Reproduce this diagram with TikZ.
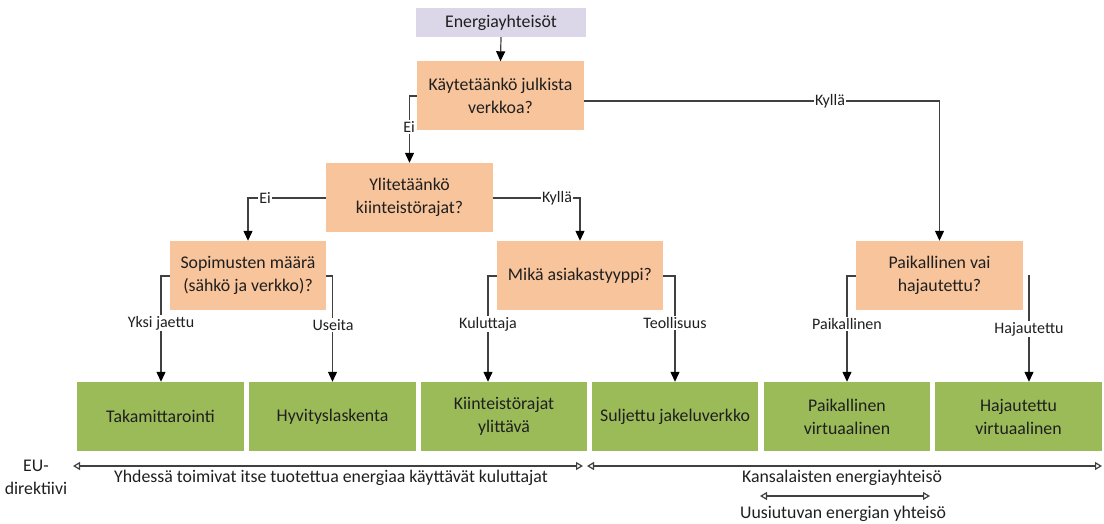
\documentclass[tikz,border=0pt]{standalone}
\usepackage{fontspec}
\setmainfont{Carlito}
\usetikzlibrary{arrows.meta,calc}
\definecolor{lav}{HTML}{DCD7E8}
\definecolor{peach}{HTML}{F8C49B}
\definecolor{grn}{HTML}{9BBB59}
\definecolor{txt}{HTML}{1F1F1F}
\definecolor{ln}{HTML}{404040}
\begin{document}
\begin{tikzpicture}[x=1pt,y=-1pt,
  box/.style={minimum width=167pt,minimum height=69pt,inner sep=0pt,align=center,text=txt,font=\fontsize{17.8}{23}\selectfont},
  qbox/.style={box,fill=peach},
  gbox/.style={box,fill=grn},
  topbox/.style={box,fill=lav,minimum width=170pt,minimum height=29pt},
  conn/.style={draw=ln,line width=1.2pt,-{Triangle[length=10pt,width=9pt,color=black]}},
  lbl/.style={fill=white,inner sep=1pt,text=txt,font=\fontsize{16}{18}\selectfont},
  spanline/.style={draw=ln,line width=1.2pt,{Triangle[open,length=7pt,width=8pt]}-{Triangle[open,length=7pt,width=8pt]}},
  note/.style={text=txt,font=\fontsize{17.8}{23}\selectfont,inner sep=0pt,align=center}]
\useasboundingbox (0,0) rectangle (1104,524);

% nodes
\node[topbox] (top) at (501,22.5) {Energiayhteisöt};
\node[qbox] (q1) at (500.5,96) {Käytetäänkö julkista\\verkkoa?};
\node[qbox] (q2) at (409.5,197.5) {Ylitetäänkö\\kiinteistörajat?};
\node[qbox,minimum width=156pt] (q3) at (248,275.5) {Sopimusten määrä\\(sähkö ja verkko)?};
\node[qbox,minimum width=166pt] (q4) at (580,275.5) {Mikä asiakastyyppi?};
\node[qbox] (q5) at (939.5,275.5) {Paikallinen vai\\hajautettu?};

\node[gbox] (g1) at (160.5,416.5) {Takamittarointi};
\node[gbox] (g2) at (332.5,416.5) {Hyvityslaskenta};
\node[gbox,minimum width=166pt] (g3) at (504,416.5) {Kiinteistörajat\\ylittävä};
\node[gbox,minimum width=166pt] (g4) at (675,416.5) {Suljettu jakeluverkko};
\node[gbox,minimum width=166pt] (g5) at (847,416.5) {Paikallinen\\virtuaalinen};
\node[gbox] (g6) at (1018.5,416.5) {Hajautettu\\virtuaalinen};

% bend coordinates
\coordinate (k1) at (409.5,96);
\coordinate (k2) at (939.5,101);
\coordinate (k3) at (248,198);
\coordinate (k4) at (580,198);
\coordinate (k5) at (161,276);
\coordinate (k6) at (332.5,276);
\coordinate (k7) at (488,276);
\coordinate (k8) at (675,276);
\coordinate (k9) at (847,276);
\coordinate (k10) at (1029,275);

% connectors
\draw[conn] (q1.west |- k1) -- (k1) -- (q2.north);
\draw[conn] (top.south) -- (q1.north);
\draw[conn] (q1.east |- k2) -- (k2) -- (q5.north);
\draw[conn] (q2.west |- k3) -- (k3) -- (q3.north);
\draw[conn] (q2.east |- k4) -- (k4) -- (q4.north);
\draw[conn] (q3.west |- k5) -- (k5) -- (k5 |- g1.north);
\draw[conn] (q3.east |- k6) -- (k6) -- (g2.north);
\draw[conn] (q4.west |- k7) -- (k7) -- (k7 |- g3.north);
\draw[conn] (q4.east |- k8) -- (k8) -- (g4.north);
\draw[conn] (q5.west |- k9) -- (k9) -- (g5.north);
\draw[conn] (k10) -- (k10 |- g6.north);

% connector labels
\node[lbl] (l1) at (409,127) {Ei};
\node[lbl] (l2) at (830,101) {Kyllä};
\node[lbl] (l3) at (265,198) {Ei};
\node[lbl] (l4) at (557,198) {Kyllä};
\node[lbl] (l5) at (161,323) {Yksi jaettu};
\node[lbl] (l6) at (333,325) {Useita};
\node[lbl] (l7) at (488,324) {Kuluttaja};
\node[lbl] (l8) at (675,323) {Teollisuus};
\node[lbl] (l9) at (847,324) {Paikallinen};
\node[lbl] (l10) at (1029,329) {Hajautettu};

% bottom spans
\node[note] (eu) at (36,477) {EU-\\direktiivi};
\coordinate (s1a) at (73,466);
\coordinate (s1b) at (583,466);
\coordinate (s2a) at (587,466);
\coordinate (s2b) at (1102,466);
\coordinate (s3a) at (760,496);
\coordinate (s3b) at (930,496);
\draw[spanline] (s1a) -- (s1b);
\draw[spanline] (s2a) -- (s2b);
\draw[spanline] (s3a) -- (s3b);
\node[note] (t1) at (331,478) {Yhdessä toimivat itse tuotettua energiaa käyttävät kuluttajat};
\node[note] (t2) at (842,478) {Kansalaisten energiayhteisö};
\node[note] (t3) at (843,514) {Uusiutuvan energian yhteisö};
\end{tikzpicture}
\end{document}
